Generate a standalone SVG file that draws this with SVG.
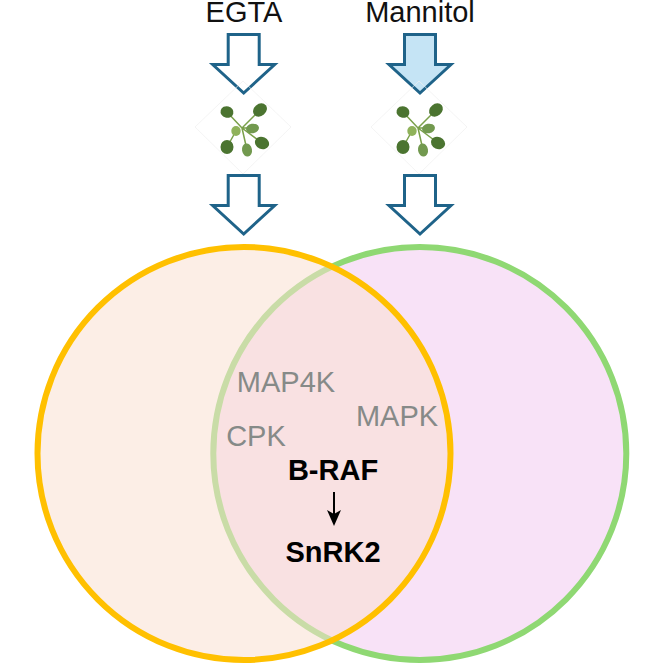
<svg xmlns="http://www.w3.org/2000/svg" width="664" height="664" viewBox="0 0 664 664">
<style>
.l{font-family:"Liberation Sans",Arial,sans-serif;font-size:29px;fill:#111;text-anchor:middle}
.g{font-family:"Liberation Sans",Arial,sans-serif;font-size:29px;fill:#868a88;text-anchor:middle}
.b{font-family:"Liberation Sans",Arial,sans-serif;font-size:29px;font-weight:bold;fill:#000;text-anchor:middle}
.a{fill:#fff;stroke:#1f6389;stroke-width:3;stroke-linejoin:miter;stroke-miterlimit:8}
.d{fill:none;stroke:#efefef;stroke-width:.7}
.s{fill:none;stroke:#7aa04a;stroke-width:1.500}
.k{fill:#4b7430}.m{fill:#72994f}.n{fill:#8fb25a}
</style>
<defs>
<g id="plant">
<path class="d" d="M0 -47L48 -1L0 46L-48 -1Z"/>
<path class="s" d="M-1 0L-16 -16M-1 0L17 -18M-1 0L19 15M-7 3L-16 19M-1 0L9 0M-1 0L4 22"/>
<ellipse class="k" cx="-16" cy="-16" rx="6.500" ry="5.800" transform="rotate(15 -16 -16)"/>
<ellipse class="k" cx="17" cy="-18" rx="7.500" ry="6" transform="rotate(-40 17 -18)"/>
<ellipse class="m" cx="9.500" cy="0.500" rx="6.500" ry="4.800" transform="rotate(-10 9.500 0.500)"/>
<ellipse class="n" cx="-7" cy="3" rx="4.700" ry="5"/>
<ellipse class="k" cx="-16" cy="19" rx="6.500" ry="7"/>
<ellipse class="k" cx="19" cy="15" rx="7.300" ry="6" transform="rotate(25 19 15)"/>
<ellipse class="m" cx="4" cy="22" rx="5" ry="6.500" transform="rotate(-10 4 22)"/>
</g>
<path id="arrow" d="M-15.500 0H15.500V30H31L0 58.500L-31 30H-15.500Z"/>
</defs>
<g id="venn-green"><circle cx="419.800" cy="453.500" r="206.500" fill="#f8e2f7" stroke="#8fd873" stroke-width="6"/></g>
<g id="venn-orange"><circle cx="244" cy="453.500" r="206.500" fill="#fae0d2" fill-opacity=".55"/><circle cx="244" cy="453.500" r="206.500" fill="none" stroke="#ffc000" stroke-width="6"/></g>
<g id="egta"><text class="l" x="244" y="21.500">EGTA</text></g>
<g id="mannitol"><text class="l" x="420" y="21.500">Mannitol</text></g>
<g id="arrow-egta-1"><use href="#arrow" x="243.700" y="34.500" class="a"/></g>
<g id="arrow-mannitol-1"><use href="#arrow" x="420" y="34.500" class="a" style="fill:#c5e4f5"/></g>
<g id="plant-egta"><use href="#plant" x="243" y="128"/></g>
<g id="plant-mannitol"><use href="#plant" x="419" y="128"/></g>
<g id="arrow-egta-2"><use href="#arrow" x="243.700" y="175.500" class="a"/></g>
<g id="arrow-mannitol-2"><use href="#arrow" x="420" y="175.500" class="a"/></g>
<g id="map4k"><text class="g" x="286" y="392">MAP4K</text></g>
<g id="mapk"><text class="g" x="397" y="426">MAPK</text></g>
<g id="cpk"><text class="g" x="256" y="446">CPK</text></g>
<g id="braf"><text class="b" x="333" y="479.500">B-RAF</text></g>
<g id="snrk2"><text class="b" x="333" y="562">SnRK2</text></g>
<g id="connectors"><line x1="334" y1="492" x2="334" y2="520" stroke="#000" stroke-width="2"/><path d="M327 510L334 514L341 510L334 526Z" fill="#000"/></g>
</svg>
